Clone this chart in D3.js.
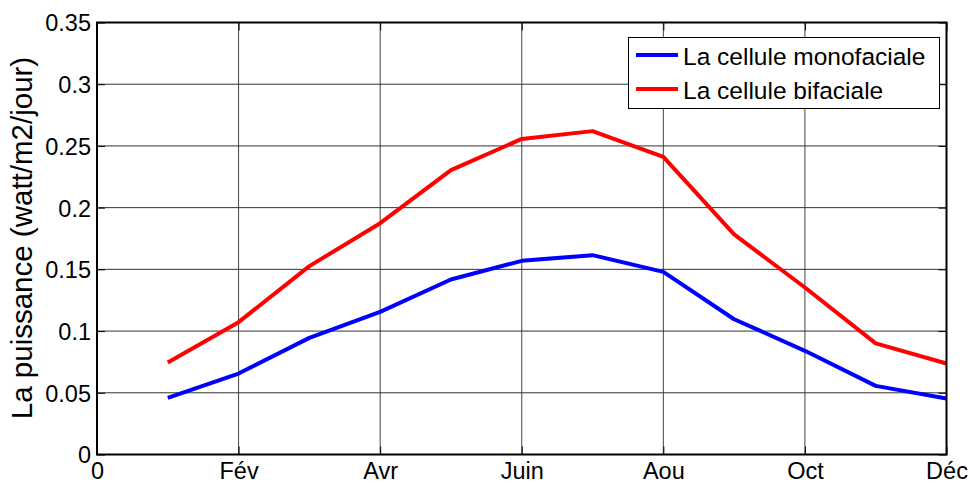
<!DOCTYPE html>
<html>
<head>
<meta charset="utf-8">
<script src="https://cdn.jsdelivr.net/npm/d3@7"></script>
<style>
  html, body { margin: 0; padding: 0; background: #fff; }
  svg { display: block; font-family: "Liberation Sans", Arial, sans-serif; }
</style>
</head>
<body>
<svg id="chart" width="970" height="485"></svg>
<script>
// Months (1..12) and daily power for each cell type
const months = [1, 2, 3, 4, 5, 6, 7, 8, 9, 10, 11, 12];
const monofaciale = [0.0459, 0.0656, 0.0945, 0.1156, 0.1418, 0.1569, 0.1615, 0.1480, 0.1096, 0.0840, 0.0556, 0.0454];
const bifaciale   = [0.0746, 0.1072, 0.1526, 0.1874, 0.2304, 0.2557, 0.2620, 0.2412, 0.1783, 0.1353, 0.0900, 0.0737];

const xTicks = [0, 2, 4, 6, 8, 10, 12];
const xTickLabels = ["0", "Fév", "Avr", "Juin", "Aou", "Oct", "Déc"];
const yTicks = [0, 0.05, 0.1, 0.15, 0.2, 0.25, 0.3, 0.35];
const yTickLabels = ["0", "0.05", "0.1", "0.15", "0.2", "0.25", "0.3", "0.35"];

const seriesNames = ["La cellule monofaciale", "La cellule bifaciale"];
const seriesColors = ["#0000ff", "#ff0000"];

const svg = d3.select("#chart");
const margin = { left: 97, right: 970 - 946.5, top: 22.5, bottom: 485 - 454.5 };
const W = 970, H = 485;

const x = d3.scaleLinear().domain([0, 12]).range([margin.left, W - margin.right]);
const y = d3.scaleLinear().domain([0, 0.35]).range([H - margin.bottom, margin.top]);

// Grid lines
const grid = svg.append("g");
grid.selectAll("line.vx").data(xTicks.slice(1, -1)).enter().append("line")
  .attr("x1", d => x(d)).attr("x2", d => x(d))
  .attr("y1", y(0)).attr("y2", y(0.35))
  .attr("stroke", "#444").attr("stroke-width", 1);
grid.selectAll("line.hy").data(yTicks.slice(1, -1)).enter().append("line")
  .attr("x1", x(0)).attr("x2", x(12))
  .attr("y1", d => y(d)).attr("y2", d => y(d))
  .attr("stroke", "#333").attr("stroke-width", 1);

// Series lines
const line = d3.line().x((d, i) => x(months[i])).y(d => y(d));
[monofaciale, bifaciale].forEach((vals, k) => {
  svg.append("path").datum(vals)
    .attr("d", line)
    .attr("fill", "none")
    .attr("stroke", seriesColors[k])
    .attr("stroke-width", 4)
    .attr("stroke-linejoin", "round");
});

// Axes box with inward ticks
const xAxis = d3.axisBottom(x).tickValues(xTicks).tickFormat((d, i) => xTickLabels[i]).tickSizeInner(-8).tickSizeOuter(0);
const yAxis = d3.axisLeft(y).tickValues(yTicks).tickFormat((d, i) => yTickLabels[i]).tickSizeInner(-8).tickSizeOuter(0).tickPadding(6);

const gx = svg.append("g").attr("transform", `translate(0,${y(0)})`).call(xAxis);
const gy = svg.append("g").attr("transform", `translate(${x(0)},0)`).call(yAxis);
[gx, gy].forEach(g => {
  g.select(".domain").remove();
  g.selectAll("line").attr("stroke", "#000");
  g.selectAll("text").attr("font-size", 23.5).attr("fill", "#000")
    .attr("font-family", "'Liberation Sans', Arial, sans-serif");
});
gx.selectAll("text").attr("y", 24).attr("dy", 0);
gy.selectAll("text").attr("dy", "0.36em");

// Top/right mirrored ticks
svg.append("g").attr("transform", `translate(0,${y(0.35)})`)
  .call(d3.axisTop(x).tickValues(xTicks).tickFormat("").tickSizeInner(-8).tickSizeOuter(0))
  .call(g => g.select(".domain").remove());
svg.append("g").attr("transform", `translate(${x(12)},0)`)
  .call(d3.axisRight(y).tickValues(yTicks).tickFormat("").tickSizeInner(-8).tickSizeOuter(0))
  .call(g => g.select(".domain").remove());

svg.append("rect")
  .attr("x", x(0)).attr("y", y(0.35))
  .attr("width", x(12) - x(0)).attr("height", y(0) - y(0.35))
  .attr("fill", "none").attr("stroke", "#000").attr("stroke-width", 2);

// Y axis title
svg.append("text")
  .attr("transform", `translate(32,238) rotate(-90)`)
  .attr("text-anchor", "middle")
  .attr("font-size", 29.5)
  .text("La puissance (watt/m2/jour)");

// Legend
const legend = svg.append("g");
legend.append("rect")
  .attr("x", 628.5).attr("y", 37.5).attr("width", 311).attr("height", 71)
  .attr("fill", "#fff").attr("stroke", "#000").attr("stroke-width", 1);
seriesNames.forEach((name, k) => {
  const cy = 55 + k * 34;
  legend.append("line")
    .attr("x1", 636).attr("x2", 678).attr("y1", cy).attr("y2", cy)
    .attr("stroke", seriesColors[k]).attr("stroke-width", 4);
  legend.append("text")
    .attr("x", 683).attr("y", cy + 10)
    .attr("font-size", 24.5).text(name);
});
</script>
</body>
</html>
